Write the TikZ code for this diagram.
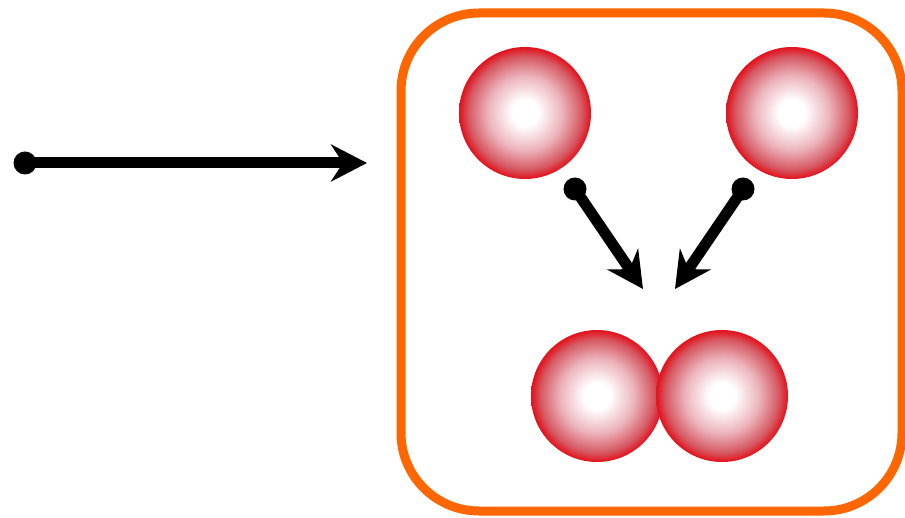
\documentclass[tikz,border=0pt]{standalone}
\usetikzlibrary{arrows.meta}
\definecolor{boxorange}{RGB}{255,102,0}
\definecolor{ballmid}{RGB}{236,180,188}
\definecolor{balldark}{RGB}{214,88,98}
\definecolor{ballred}{RGB}{226,22,32}
\pgfdeclareradialshading{sphere}{\pgfpoint{0bp}{0bp}}{%
  color(0bp)=(white); color(5bp)=(white); color(14bp)=(ballmid);
  color(21.5bp)=(balldark); color(24.7bp)=(ballred); color(50bp)=(ballred)}
\tikzset{
  ball/.style={circle, minimum size=132pt, inner sep=0pt, shading=sphere, draw=none},
  dotnode/.style={circle, fill=black, minimum size=23pt, inner sep=0pt},
  thickarrow/.style={line width=11pt, -{Stealth[length=36pt, width=37pt, inset=12pt]}},
  frame/.style={draw=boxorange, line width=9pt, rounded corners=78pt}
}
\begin{document}
\begin{tikzpicture}[x=1pt, y=-1pt]
\useasboundingbox (0,0) rectangle (905,518);
\draw[frame] (401,13) rectangle (902,511);
% balls
\node[ball] (b1) at (525,113) {};
\node[ball] (b2) at (792,113) {};
\node[ball] (b3) at (597,396) {};
\node[ball] (b4) at (722,396) {};
% horizontal arrow
\node[dotnode] (d0) at (25,163) {};
\coordinate (t0) at (367,163);
\draw[thickarrow] (d0.center) -- (t0);
% converging arrows
\node[dotnode] (d1) at (575,189) {};
\node[dotnode] (d2) at (743,189) {};
\coordinate (t1) at (643,289);
\coordinate (t2) at (675,289);
\draw[thickarrow] (d1.center) -- (t1);
\draw[thickarrow] (d2.center) -- (t2);
\end{tikzpicture}
\end{document}
